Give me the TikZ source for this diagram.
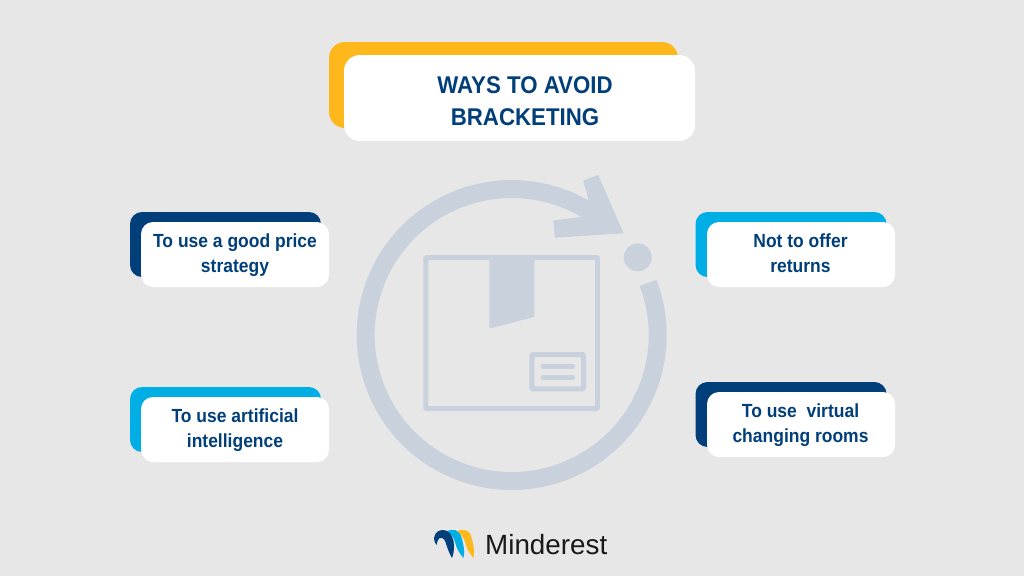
\documentclass[tikz,border=0pt]{standalone}
\usepackage{fontspec}
\setmainfont{Liberation Sans}
\newfontfamily\headfont[FakeStretch=0.92]{Liberation Sans}
\newcommand{\lnstrut}{\vphantom{Tg}}
\definecolor{bg}{HTML}{E7E7E7}
\definecolor{icon}{HTML}{C9D2DC}
\definecolor{navy}{HTML}{003F7A}
\definecolor{gold}{HTML}{FFB81C}
\definecolor{sky}{HTML}{00AEE6}
\tikzset{
  plate/.style={draw=none,inner sep=0pt,outer sep=0pt,rounded corners=12pt,minimum width=191pt,minimum height=65pt},
  cardbox/.style={plate,fill=white,minimum width=188pt},
  cardtext/.style={inner sep=0pt,align=center,text=navy,font=\headfont\fontsize{19}{25.5}\selectfont\bfseries},
  bigplate/.style={plate,rounded corners=16pt,minimum width=349pt,minimum height=86pt},
  titlebox/.style={bigplate,fill=white,minimum width=351pt},
  titletext/.style={inner sep=0pt,align=center,text=navy,font=\headfont\fontsize{24.2}{32}\selectfont\bfseries},
  iconline/.style={draw=icon,fill=none,line width=5pt,rounded corners=1pt},
  ring/.style={draw=icon,fill=none,line width=18pt},
  solid icon/.style={fill=icon,draw=icon,line width=1pt,line join=round},
}
\begin{document}
\begin{tikzpicture}[x=1pt,y=1pt]
\useasboundingbox (0,0) rectangle (1024,-576);
\fill[bg] (0,0) rectangle (1024,-576);
% ring with arrowhead
\coordinate (c) at (511.7,-335);
\draw[ring] (c) ++(20.9:146) arc[start angle=20.9,end angle=-302,radius=146];
\path[solid icon] (597.9,-175.5) -- (583.8,-180.9) -- (589.3,-200.7) -- (581.7,-217.3)
  -- (553.8,-221) -- (555.2,-237.2) -- (622.8,-232.8) -- cycle;
\node[circle,fill=icon,inner sep=0pt,minimum size=28pt] (dot) at (637.7,-257.3) {};
% parcel
\draw[iconline] (425.8,-257.5) rectangle (597.5,-408.5);
\path[solid icon] (489.8,-257) -- (533.8,-257) -- (533.8,-316.5) -- (489.8,-328) -- cycle;
\draw[iconline] (531.8,-354.5) rectangle (583.5,-388.8);
\draw[icon,line width=5pt,line cap=round] (543,-366) -- (572.5,-366);
\draw[icon,line width=5pt,line cap=round] (543,-377.3) -- (572.5,-377.3);
% title
\node[bigplate,fill=gold] (titleback) at (503.5,-85) {};
\node[titlebox] (titlecard) at (519.5,-98) {};
\node[titletext] (title) at (525,-103.5) {WAYS TO AVOID\lnstrut\\BRACKETING\lnstrut};
% cards
\node[plate,fill=navy] (backA) at (225.5,-244.5) {};
\node[cardbox] (cardA) at (235,-254.5) {};
\node[cardtext] (textA) at (235,-255) {To use a good price\lnstrut\\strategy\lnstrut};
\node[plate,fill=sky] (backB) at (225.5,-419.5) {};
\node[cardbox] (cardB) at (235,-429.5) {};
\node[cardtext] (textB) at (235,-430) {To use artificial\lnstrut\\intelligence\lnstrut};
\node[plate,fill=sky] (backC) at (791,-244.5) {};
\node[cardbox] (cardC) at (801,-254.5) {};
\node[cardtext] (textC) at (800.5,-255) {Not to offer\lnstrut\\returns\lnstrut};
\node[plate,fill=navy] (backD) at (791,-414.5) {};
\node[cardbox] (cardD) at (801,-424.5) {};
\node[cardtext] (textD) at (800.5,-425) {To use\ \ virtual\lnstrut\\changing rooms\lnstrut};
% logo
\fill[sky] (447,-531) .. controls (452,-529) and (459,-529) .. (461,-536)
  .. controls (463.5,-544) and (465,-552) .. (463.5,-558)
  .. controls (459,-553) and (456.5,-548) .. (455,-542)
  .. controls (454,-538) and (451,-534) .. (447,-531) -- cycle;
\fill[gold] (457,-531) .. controls (462,-529) and (469,-529) .. (471,-536)
  .. controls (473.5,-544) and (475,-552) .. (473.5,-558)
  .. controls (469,-553) and (466.5,-548) .. (465,-542)
  .. controls (464,-538) and (461,-534) .. (457,-531) -- cycle;
\fill[navy] (434,-538) .. controls (435,-532) and (439,-530) .. (443,-530)
  .. controls (449,-530) and (452,-535) .. (453.5,-541)
  .. controls (454.5,-547) and (454,-553) .. (452,-558)
  .. controls (449,-553) and (447,-547) .. (445.5,-542)
  .. controls (444,-538) and (441,-537) .. (439.5,-538)
  .. controls (438,-539) and (437,-542) .. (436.5,-545)
  .. controls (435,-543) and (434,-541) .. (434,-538) -- cycle;
\node[anchor=base west,inner sep=0pt,text=black!90,font=\fontsize{27.8}{30}\selectfont] (brand) at (485,-554) {Minderest};
\end{tikzpicture}
\end{document}
